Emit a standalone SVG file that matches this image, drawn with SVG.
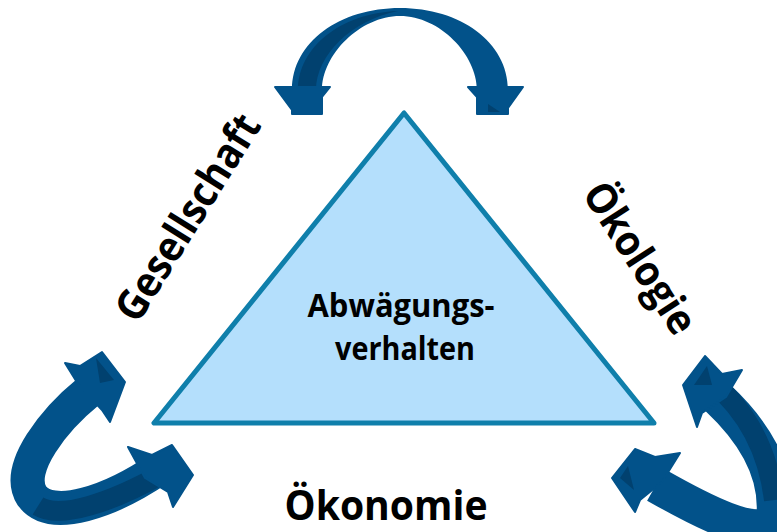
<svg xmlns="http://www.w3.org/2000/svg" width="777" height="532" viewBox="0 0 777 532">
<style>
.band{fill:none;stroke:#02528A;stroke-linecap:butt;stroke-linejoin:round}
.head{fill:#02528A;stroke:#02528A;stroke-width:2;stroke-linejoin:round}
.dark{fill:#01416F}
.lbl{font-family:"Open Sans",Lato,"Liberation Sans",sans-serif;font-weight:700;fill:#000}
</style>
<rect width="777" height="532" fill="#fff"/>
<g id="triangle">
<polygon points="404,113 154,423 654,423" fill="#B4DFFC" stroke="#0F7FAB" stroke-width="5" stroke-linejoin="round"/>
<text class="lbl" x="401" y="317" font-size="33" text-anchor="middle" textLength="187" lengthAdjust="spacingAndGlyphs">Abwägungs-</text>
<text class="lbl" x="405" y="360" font-size="33" text-anchor="middle" textLength="140" lengthAdjust="spacingAndGlyphs">verhalten</text>
</g>
<g id="label-gesellschaft">
<text class="lbl" font-size="42" text-anchor="middle" textLength="235" lengthAdjust="spacingAndGlyphs" transform="translate(200,225) rotate(-58)">Gesellschaft</text>
</g>
<g id="label-oekologie">
<text class="lbl" font-size="42" text-anchor="middle" textLength="172" lengthAdjust="spacingAndGlyphs" transform="translate(628,266) rotate(57)">Ökologie</text>
</g>
<g id="label-oekonomie">
<text class="lbl" x="386" y="520" font-size="42" text-anchor="middle" textLength="203" lengthAdjust="spacingAndGlyphs">Ökonomie</text>
</g>
<g id="connectors">
<g id="arrow-top">
<path fill="#02528A" d="M292,90 C292,42 340,8 400,8 C460,8 508,42 508,90 L477,90 C477,55 440,16 400,16 C360,16 322,55 322,90 Z"/>
<path class="dark" d="M298,112 L298,90 C298,48 340,13 398,11 C352,20 316,55 316,90 L316,112 Z"/>
<polygon class="head" points="275,87 330,87 322,97 322,114 292,114 292,110"/>
<polygon class="head" points="468,87 523,87 508,108 508,114 477,114 477,97"/>
<polygon class="dark" points="488,104 500,112 488,112"/>
</g>
<g id="arrow-bottom-left">
<path class="band" stroke-width="34" d="M88,392 C56,418 14,468 32,496 C52,522 110,502 160,468"/>
<path fill="none" stroke="#01416F" stroke-width="20" d="M38,506 C60,520 112,502 162,474"/>
<polygon class="head" points="102,352 125,382 110,422 102,410 78,384 65,363 80,366"/>
<polygon class="dark" points="96,358 114,380 100,383"/>
<polygon class="head" points="172,445 193,475 173,507 168,492 145,478 128,447 152,455"/>
</g>
<g id="arrow-bottom-right">
<path class="band" stroke-width="36" d="M718,398 C750,428 780,470 774,520 C760,542 700,510 656,485"/>
<path fill="none" stroke="#01416F" stroke-width="20" d="M712,382 C748,412 768,450 774,500"/>
<polygon class="head" points="705,356 683,385 697,427 702,413 726,397 742,370 722,374"/>
<polygon class="dark" points="707,366 694,385 712,385"/>
<polygon class="head" points="635,449 612,478 635,512 640,500 662,482 680,453 655,457"/>
<polygon class="dark" points="628,466 620,478 634,490"/>
</g>
</g>
</svg>
